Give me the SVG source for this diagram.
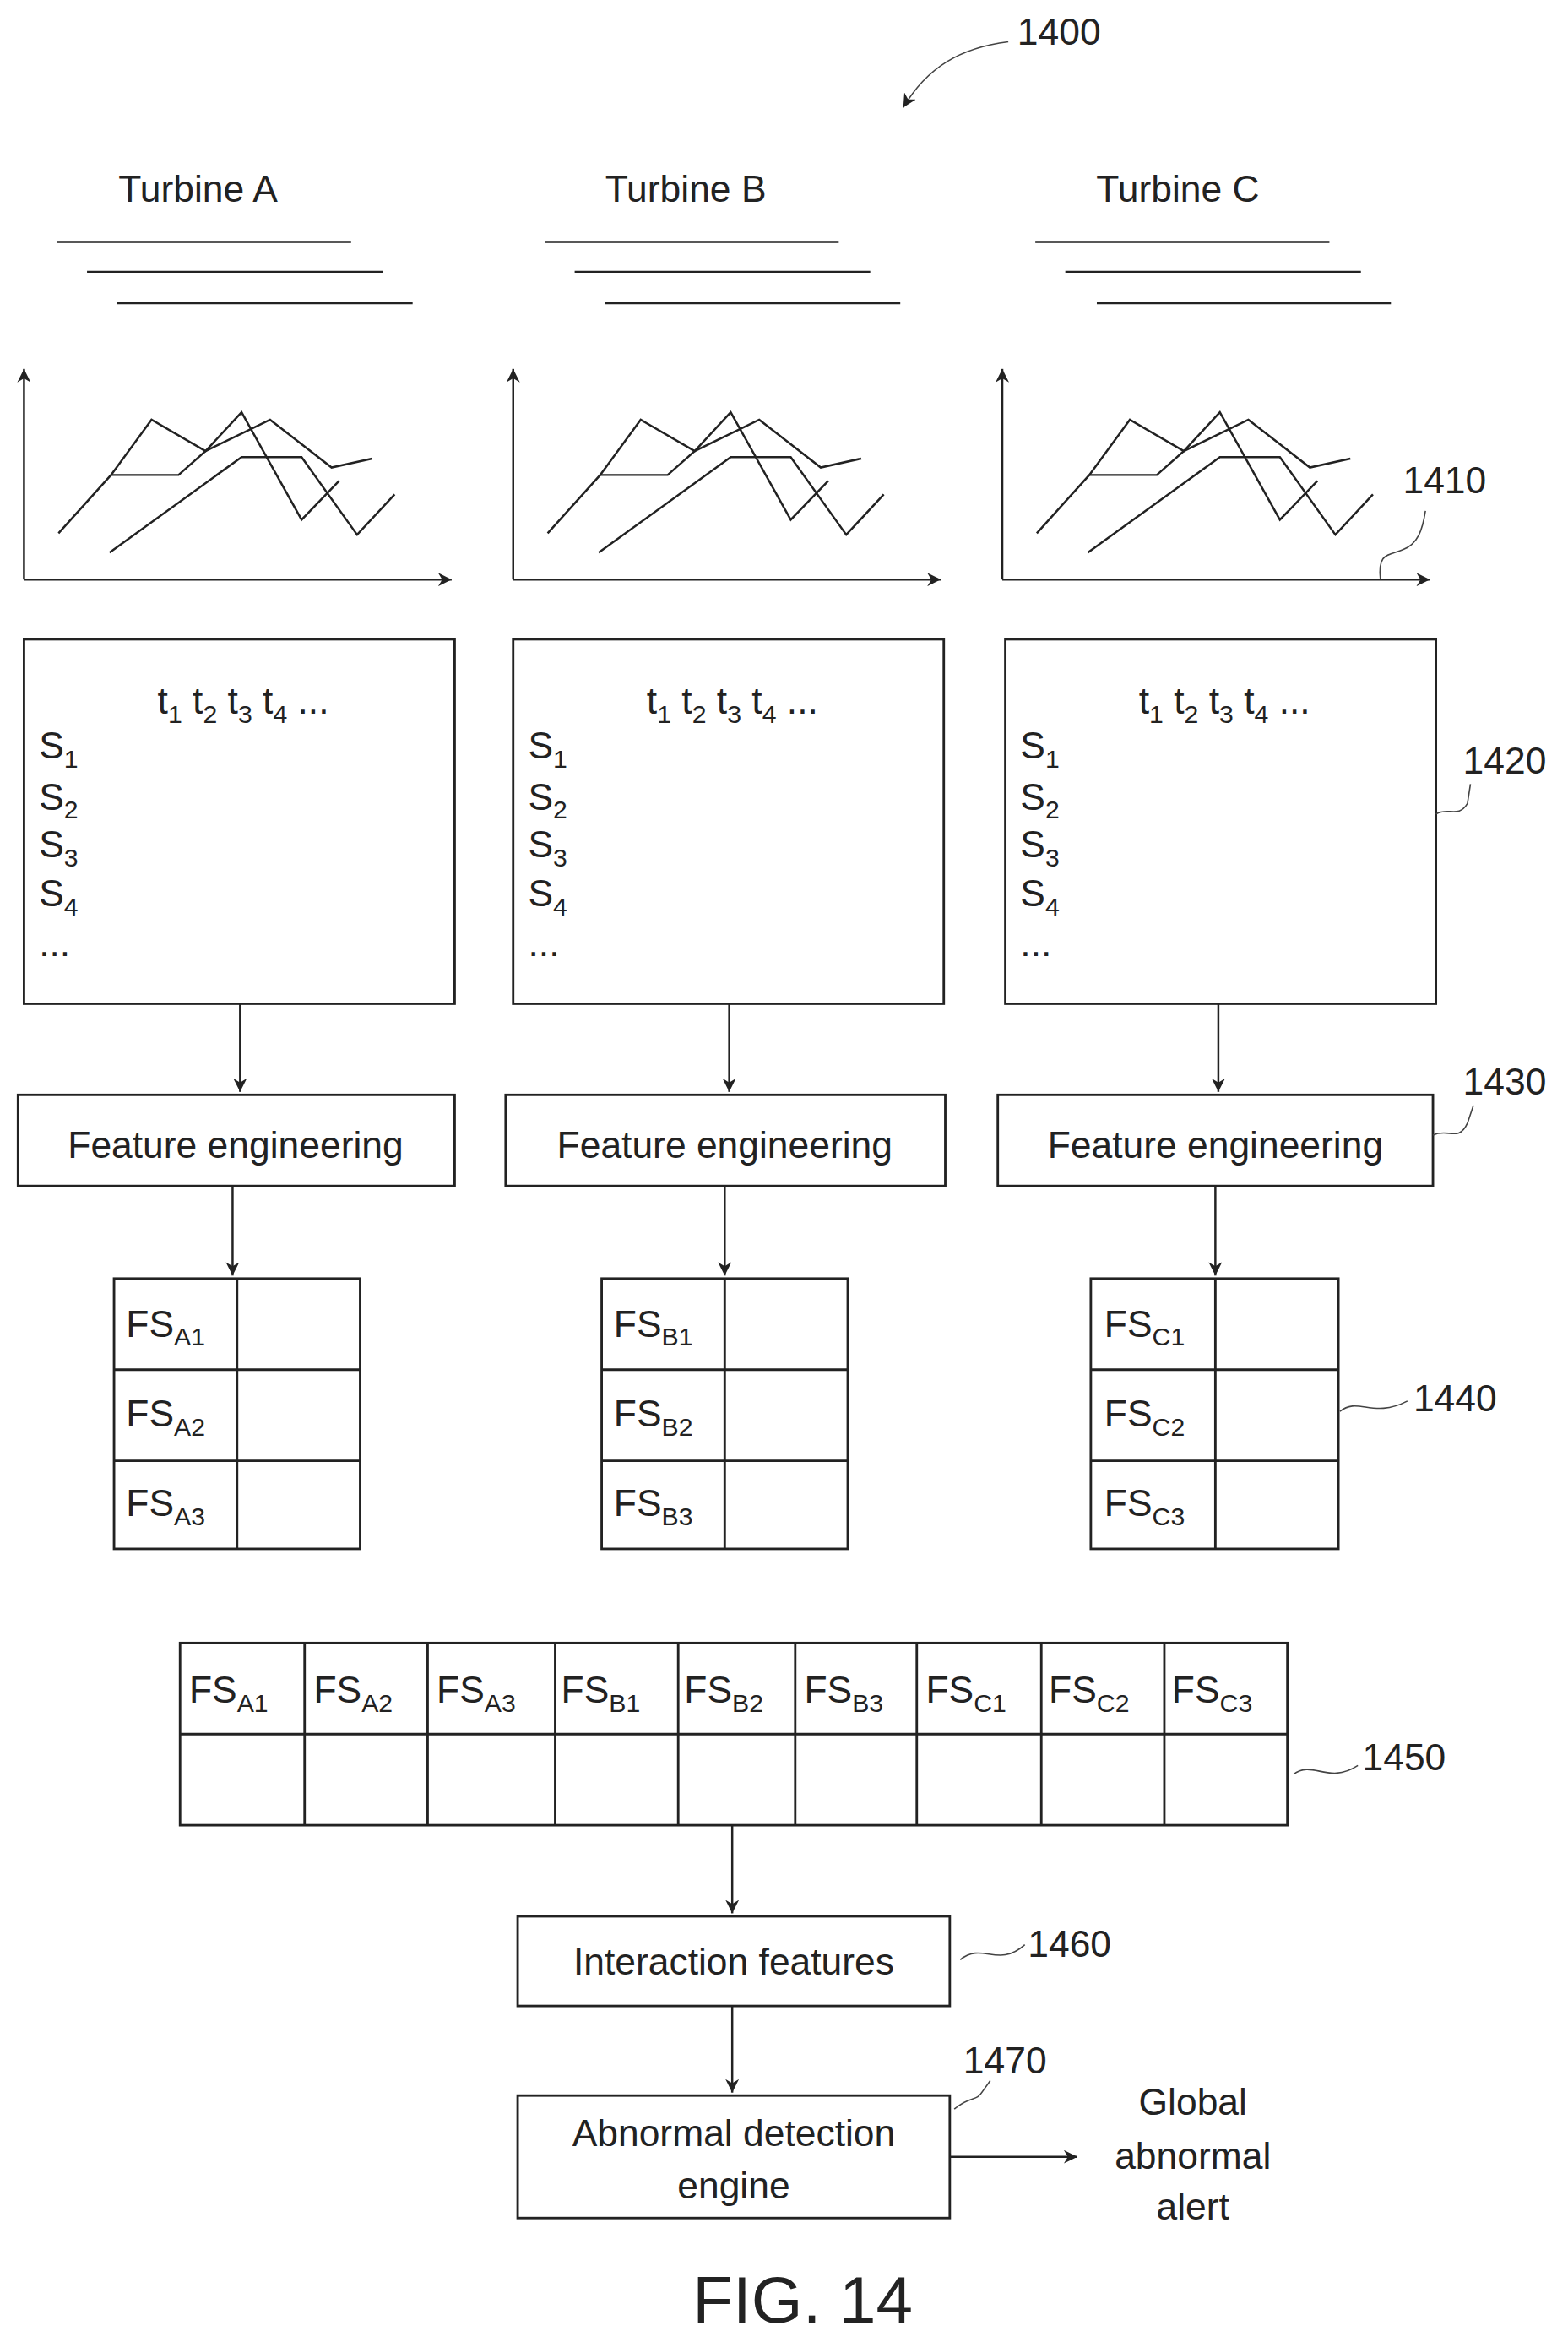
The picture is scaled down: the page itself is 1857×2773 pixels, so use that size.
<svg xmlns="http://www.w3.org/2000/svg" width="1857" height="2773" viewBox="0 0 1857 2773">
<defs>
<style>
.t{font-family:"Liberation Sans",Arial,sans-serif;font-size:25px;fill:#222}
.s{font-size:17px}
.b{fill:none;stroke:#222;stroke-width:1.6}
.l{fill:none;stroke:#222;stroke-width:1.4}
.ld{fill:none;stroke:#444;stroke-width:0.9}
</style>
<marker id="ah" viewBox="0 0 10 10" refX="10" refY="5" markerWidth="9" markerHeight="9" markerUnits="userSpaceOnUse" orient="auto">
<path d="M0,0 L10,5 L0,10 L3,5 Z" fill="#222"/>
</marker>
<g id="chart">
<path class="l" d="M16,388 V247" marker-end="url(#ah)"/>
<path class="l" d="M16,388 H301" marker-end="url(#ah)"/>
<polyline class="l" points="39,357 74,318 101,281 137,302 161,276 201,348 226,322"/>
<polyline class="l" points="74,318 119,318 137,302 180,281 221,313 248,307"/>
<polyline class="l" points="73,370 161,306 201,306 238,358 263,331"/>
</g>
<g id="mat">
<rect class="b" x="16" y="428" width="287" height="244"/>
<text class="t" x="105" y="478">t<tspan class="s" dy="6">1</tspan><tspan dy="-6"> t</tspan><tspan class="s" dy="6">2</tspan><tspan dy="-6"> t</tspan><tspan class="s" dy="6">3</tspan><tspan dy="-6"> t</tspan><tspan class="s" dy="6">4</tspan><tspan dy="-6"> ...</tspan></text>
<text class="t" x="26" y="508">S<tspan class="s" dy="6">1</tspan></text>
<text class="t" x="26" y="542">S<tspan class="s" dy="6">2</tspan></text>
<text class="t" x="26" y="574">S<tspan class="s" dy="6">3</tspan></text>
<text class="t" x="26" y="607">S<tspan class="s" dy="6">4</tspan></text>
<text class="t" x="26" y="640">...</text>
</g>
</defs>
<rect width="1857" height="2773" fill="#fff"/>
<g transform="scale(1.777 1.7685)">
<g id="label1400"><text class="t" x="678" y="30">1400</text><path class="ld" d="M672,28 C640,32 618,45 602,72" marker-end="url(#ah)"/></g>

<g id="turbineA"><text class="t" x="132" y="135" text-anchor="middle">Turbine A</text>
<path class="l" d="M38,162H234M58,182H255M78,203H275"/><use href="#chart"/></g>
<g id="turbineB"><text class="t" x="457" y="135" text-anchor="middle">Turbine B</text>
<path class="l" d="M363,162H559M383,182H580M403,203H600"/><use href="#chart" x="326"/></g>
<g id="turbineC"><text class="t" x="785" y="135" text-anchor="middle">Turbine C</text>
<path class="l" d="M690,162H886M710,182H907M731,203H927"/><use href="#chart" x="652"/></g>
<g id="label1410"><text class="t" x="935" y="330">1410</text><path class="ld" d="M920,388 C918,370 925,372 935,368 C945,364 948,355 950,342"/></g>

<g id="matrixA"><use href="#mat"/></g>
<g id="matrixB"><use href="#mat" x="326"/></g>
<g id="matrixC"><use href="#mat" x="654"/></g>
<g id="label1420"><text class="t" x="975" y="518">1420</text><path class="ld" d="M957,545 C965,540 972,548 978,538 L980,525"/></g>

<g id="feA"><rect class="b" x="12" y="733" width="291" height="61"/><text class="t" x="157" y="775" text-anchor="middle">Feature engineering</text></g>
<g id="feB"><rect class="b" x="337" y="733" width="293" height="61"/><text class="t" x="483" y="775" text-anchor="middle">Feature engineering</text></g>
<g id="feC"><rect class="b" x="665" y="733" width="290" height="61"/><text class="t" x="810" y="775" text-anchor="middle">Feature engineering</text></g>
<g id="label1430"><text class="t" x="975" y="733">1430</text><path class="ld" d="M955,760 C965,755 972,765 978,752 L982,740"/></g>

<g id="tableA"><rect class="b" x="76" y="856" width="164" height="181"/><path class="b" d="M76,917H240M76,978H240M158,856V1037"/>
<text class="t" x="84" y="895">FS<tspan class="s" dy="6">A1</tspan></text><text class="t" x="84" y="955">FS<tspan class="s" dy="6">A2</tspan></text><text class="t" x="84" y="1015">FS<tspan class="s" dy="6">A3</tspan></text></g>
<g id="tableB"><rect class="b" x="401" y="856" width="164" height="181"/><path class="b" d="M401,917H565M401,978H565M483,856V1037"/>
<text class="t" x="409" y="895">FS<tspan class="s" dy="6">B1</tspan></text><text class="t" x="409" y="955">FS<tspan class="s" dy="6">B2</tspan></text><text class="t" x="409" y="1015">FS<tspan class="s" dy="6">B3</tspan></text></g>
<g id="tableC"><rect class="b" x="727" y="856" width="165" height="181"/><path class="b" d="M727,917H892M727,978H892M810,856V1037"/>
<text class="t" x="736" y="895">FS<tspan class="s" dy="6">C1</tspan></text><text class="t" x="736" y="955">FS<tspan class="s" dy="6">C2</tspan></text><text class="t" x="736" y="1015">FS<tspan class="s" dy="6">C3</tspan></text></g>
<g id="label1440"><text class="t" x="942" y="945">1440</text><path class="ld" d="M893,945 C905,935 915,950 938,938"/></g>

<g id="bigtable"><rect class="b" x="120" y="1100" width="738" height="122"/>
<path class="b" d="M120,1161H858M203,1100V1222M285,1100V1222M370,1100V1222M452,1100V1222M530,1100V1222M611,1100V1222M694,1100V1222M776,1100V1222"/>
<g class="t"><text x="126" y="1140">FS<tspan class="s" dy="6">A1</tspan></text><text x="209" y="1140">FS<tspan class="s" dy="6">A2</tspan></text><text x="291" y="1140">FS<tspan class="s" dy="6">A3</tspan></text><text x="374" y="1140">FS<tspan class="s" dy="6">B1</tspan></text><text x="456" y="1140">FS<tspan class="s" dy="6">B2</tspan></text><text x="536" y="1140">FS<tspan class="s" dy="6">B3</tspan></text><text x="617" y="1140">FS<tspan class="s" dy="6">C1</tspan></text><text x="699" y="1140">FS<tspan class="s" dy="6">C2</tspan></text><text x="781" y="1140">FS<tspan class="s" dy="6">C3</tspan></text></g></g>
<g id="label1450"><text class="t" x="908" y="1185">1450</text><path class="ld" d="M862,1188 C875,1178 885,1195 905,1182"/></g>

<g id="interaction"><rect class="b" x="345" y="1283" width="288" height="60"/><text class="t" x="489" y="1322" text-anchor="middle">Interaction features</text></g>
<g id="label1460"><text class="t" x="685" y="1310">1460</text><path class="ld" d="M640,1312 C655,1300 665,1318 683,1302"/></g>

<g id="engine"><rect class="b" x="345" y="1403" width="288" height="82"/><text class="t" x="489" y="1437" text-anchor="middle">Abnormal detection</text><text class="t" x="489" y="1472" text-anchor="middle">engine</text></g>
<g id="label1470"><text class="t" x="642" y="1388">1470</text><path class="ld" d="M636,1412 C648,1402 650,1408 655,1400 L660,1393"/></g>

<g id="alert" class="t" text-anchor="middle"><text x="795" y="1416">Global</text><text x="795" y="1452">abnormal</text><text x="795" y="1486">alert</text></g>

<g id="connectors">
<path class="l" d="M160,672V731" marker-end="url(#ah)"/>
<path class="l" d="M486,672V731" marker-end="url(#ah)"/>
<path class="l" d="M812,672V731" marker-end="url(#ah)"/>
<path class="l" d="M155,794V854" marker-end="url(#ah)"/>
<path class="l" d="M483,794V854" marker-end="url(#ah)"/>
<path class="l" d="M810,794V854" marker-end="url(#ah)"/>
<path class="l" d="M488,1222V1281" marker-end="url(#ah)"/>
<path class="l" d="M488,1343V1401" marker-end="url(#ah)"/>
<path class="l" d="M633,1444H718" marker-end="url(#ah)"/>
</g>
<text class="t" x="535" y="1555" text-anchor="middle" style="font-size:44px">FIG. 14</text>
</g>
</svg>
